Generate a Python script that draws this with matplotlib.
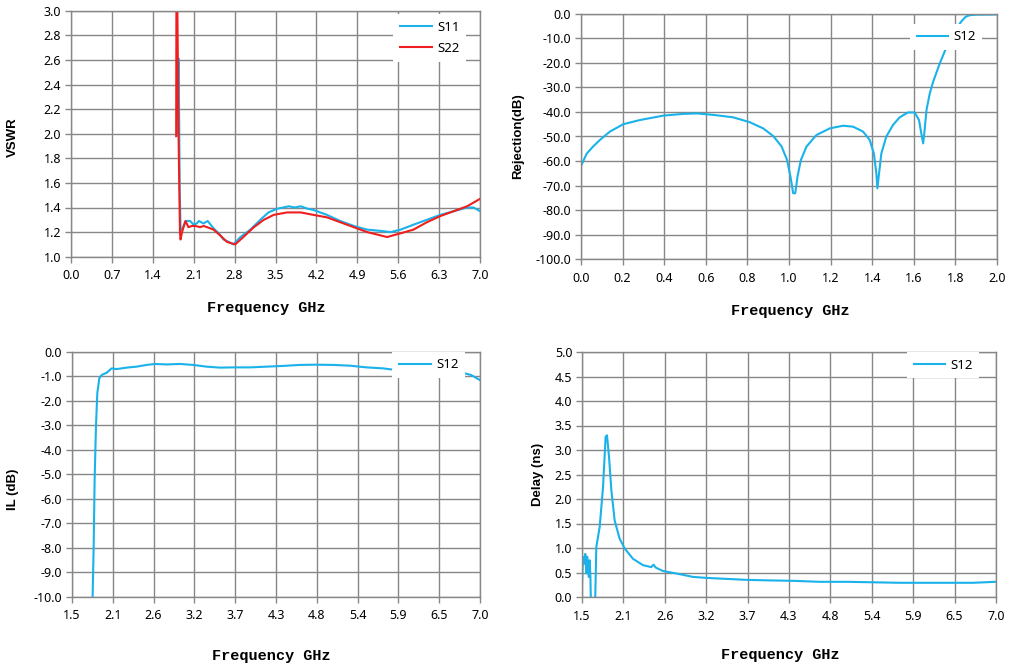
import matplotlib
matplotlib.use("Agg")
import matplotlib.pyplot as plt
from matplotlib.ticker import FormatStrFormatter

# VSWR data (GHz, ratio)
s11_vswr_f = [1.835, 1.843, 1.86, 1.875, 1.90, 1.96, 2.00, 2.04, 2.10, 2.15, 2.19, 2.23, 2.27, 2.30,
              2.34, 2.44, 2.53, 2.61, 2.70, 2.78, 2.90, 3.07, 3.24, 3.38, 3.53, 3.63, 3.73, 3.83,
              3.93, 4.05, 4.15, 4.38, 4.61, 4.84, 5.07, 5.30, 5.47, 5.64, 5.86, 6.09, 6.32,
              6.55, 6.78, 6.89, 7.00]
s11_vswr = [2.00, 2.61, 1.55, 1.22, 1.22, 1.29, 1.29, 1.29, 1.26, 1.27, 1.29, 1.28, 1.27, 1.28,
            1.29, 1.23, 1.19, 1.14, 1.12, 1.10, 1.16, 1.22, 1.30, 1.36, 1.39, 1.40, 1.41, 1.40,
            1.41, 1.39, 1.38, 1.34, 1.29, 1.25, 1.22, 1.21, 1.20, 1.22, 1.26, 1.30, 1.34,
            1.37, 1.40, 1.40, 1.37]

s22_vswr_f = [1.800, 1.805, 1.815, 1.840, 1.865, 1.875, 1.90, 1.96, 2.01, 2.07, 2.13, 2.21, 2.27,
              2.33, 2.44, 2.56, 2.67, 2.81, 2.95, 3.13, 3.30, 3.47, 3.70, 3.93, 4.15, 4.38,
              4.61, 4.84, 5.07, 5.24, 5.41, 5.64, 5.86, 6.09, 6.32, 6.55, 6.78, 7.00]
s22_vswr = [1.98, 3.30, 3.30, 2.00, 1.20, 1.14, 1.20, 1.29, 1.24, 1.25, 1.25, 1.24, 1.25,
            1.24, 1.22, 1.17, 1.12, 1.10, 1.16, 1.24, 1.30, 1.34, 1.36, 1.36, 1.34, 1.32,
            1.28, 1.24, 1.20, 1.18, 1.16, 1.19, 1.22, 1.28, 1.33, 1.37, 1.41, 1.47]

# Rejection data (GHz, dB)
rej_f = [0.000, 0.011, 0.027, 0.059, 0.091, 0.139, 0.203, 0.283, 0.396, 0.490, 0.556, 0.636,
         0.732, 0.812, 0.876, 0.924, 0.964, 0.991, 1.007, 1.020, 1.030, 1.041, 1.057, 1.084,
         1.132, 1.196, 1.260, 1.308, 1.356, 1.388, 1.408, 1.420, 1.425, 1.433, 1.444, 1.468,
         1.500, 1.532, 1.572, 1.604, 1.625, 1.636, 1.645, 1.652, 1.661, 1.677, 1.693, 1.725,
         1.765, 1.800, 1.830, 1.850, 1.870, 1.900, 2.000]
rej_db = [-62.0, -60.0, -57.0, -54.0, -51.4, -48.0, -45.0, -43.3, -41.5, -40.8, -40.6, -41.2,
          -42.2, -44.2, -46.7, -49.8, -54.0, -59.6, -66.3, -73.1, -73.1, -66.3, -59.6, -54.1,
          -49.4, -46.7, -45.6, -46.0, -48.0, -51.4, -56.9, -65.0, -71.1, -65.0, -56.9, -50.0,
          -45.3, -42.2, -40.2, -40.2, -43.3, -48.7, -52.8, -47.4, -39.2, -32.4, -27.7, -20.2,
          -12.0, -6.5, -3.0, -1.2, -0.6, -0.4, -0.3]

# Insertion loss data (GHz, dB)
il_f = [1.772, 1.778, 1.792, 1.805, 1.823, 1.841, 1.868, 1.900, 1.967, 2.034, 2.100, 2.236,
        2.370, 2.506, 2.618, 2.775, 2.955, 3.134, 3.314, 3.493, 3.673, 3.898, 4.122, 4.347,
        4.571, 4.796, 5.020, 5.245, 5.469, 5.694, 5.873, 6.200, 6.500, 6.790, 6.880, 7.000]
il_db = [-10.5, -10.0, -7.96, -5.24, -3.06, -1.70, -1.09, -0.95, -0.86, -0.68, -0.71, -0.65,
         -0.61, -0.54, -0.50, -0.52, -0.50, -0.54, -0.61, -0.65, -0.64, -0.64, -0.61, -0.58,
         -0.54, -0.53, -0.54, -0.57, -0.64, -0.68, -0.75, -0.80, -0.84, -0.88, -0.95, -1.16]

# Group delay data (GHz, ns)
dly_f = [1.500, 1.513, 1.531, 1.544, 1.558, 1.571, 1.589, 1.602, 1.612, 1.620, 1.672, 1.690,
         1.735, 1.779, 1.814, 1.832, 1.859, 1.890, 1.934, 2.000, 2.067, 2.177, 2.310, 2.420,
         2.450, 2.480, 2.576, 2.753, 2.974, 3.152, 3.417, 3.683, 3.949, 4.303, 4.657, 5.011,
         5.366, 5.720, 6.074, 6.428, 6.693, 7.000]
dly_ns = [0.27, 0.82, 0.68, 0.88, 0.48, 0.82, 0.41, 0.75, 0.40, -0.30, -0.30, 1.02,
          1.43, 2.24, 3.27, 3.30, 2.86, 2.18, 1.56, 1.19, 0.99, 0.78, 0.65, 0.61,
          0.66, 0.60, 0.53, 0.48, 0.41, 0.39, 0.37, 0.35, 0.34, 0.33, 0.31, 0.31,
          0.30, 0.29, 0.29, 0.29, 0.29, 0.31]

vswr_ticks = [1.0, 1.2, 1.4, 1.6, 1.8, 2.0, 2.2, 2.4, 2.6, 2.8, 3.0]
rej_ticks = [0.0, -10.0, -20.0, -30.0, -40.0, -50.0, -60.0, -70.0, -80.0, -90.0, -100.0]
il_ticks = [0.0, -1.0, -2.0, -3.0, -4.0, -5.0, -6.0, -7.0, -8.0, -9.0, -10.0]
dly_ticks = [0.0, 0.5, 1.0, 1.5, 2.0, 2.5, 3.0, 3.5, 4.0, 4.5, 5.0]
top_left_ticks = [0.0, 0.7, 1.4, 2.1, 2.8, 3.5, 4.2, 4.9, 5.6, 6.3, 7.0]
top_right_ticks = [0.0, 0.2, 0.4, 0.6, 0.8, 1.0, 1.2, 1.4, 1.6, 1.8, 2.0]
bottom_ticks = [1.5, 2.05, 2.6, 3.15, 3.7, 4.25, 4.8, 5.35, 5.9, 6.45, 7.0]
bottom_labels = ["1.5", "2.1", "2.6", "3.2", "3.7", "4.3", "4.8", "5.4", "5.9", "6.5", "7.0"]

CYAN = "#1AB2EA"
RED = "#F01E1E"
GRID = "#878787"
W, H = 1016, 671

fig = plt.figure(figsize=(W / 100, H / 100), dpi=100)


def make_axes(l, t, r, b):
    return fig.add_axes([l / W, 1 - b / H, (r - l) / W, (b - t) / H])


def style(ax, ylabel, xl_pos, yl_pos):
    ax.grid(True, color=GRID, linewidth=1.0)
    ax.set_axisbelow(True)
    for sp in ax.spines.values():
        sp.set_color(GRID)
        sp.set_linewidth(1.0)
    ax.tick_params(direction="out", length=4, width=1.0, color=GRID,
                   labelsize=9, labelcolor="black")
    ax.tick_params(axis="x", pad=5)
    ax.tick_params(axis="y", pad=3)
    for lab in ax.get_xticklabels() + ax.get_yticklabels():
        lab.set_family("Noto Sans")
    ax.set_xlabel("Frequency GHz", family="Liberation Mono", fontweight="bold", fontsize=11)
    ax.set_ylabel(ylabel, family="Liberation Sans", fontweight="bold", fontsize=9.5)
    ax.xaxis.set_label_coords(*xl_pos)
    ax.yaxis.set_label_coords(*yl_pos)
    ax.xaxis.label.set_va("center")
    ax.yaxis.label.set_va("center")


def legend(ax, anchor):
    leg = ax.legend(loc="upper right", bbox_to_anchor=anchor, frameon=True, fancybox=False,
                    edgecolor="none", facecolor="white", framealpha=1.0, borderaxespad=0,
                    borderpad=0.5, handlelength=2.4, handletextpad=0.4, labelspacing=0.6,
                    prop={"family": "Noto Sans", "size": 9.5})
    leg.set_zorder(5)


# VSWR
ax1 = make_axes(71, 10.7, 480, 256.7)
ax1.plot(s11_vswr_f, s11_vswr, color=CYAN, lw=1.5, label="S11")
ax1.plot(s22_vswr_f, s22_vswr, color=RED, lw=1.5, label="S22")
ax1.set_xlim(0, 7)
ax1.set_ylim(1.0, 3.0)
ax1.set_xticks(top_left_ticks)
ax1.set_xticklabels(["%.1f" % t for t in top_left_ticks])
ax1.set_yticks(vswr_ticks)
ax1.set_yticklabels(["%.1f" % t for t in vswr_ticks])
style(ax1, "VSWR", (0.478, -0.2085), (-0.142, 0.484))
legend(ax1, (0.966, 0.985))

# Rejection
ax2 = make_axes(581, 13.7, 997, 259.3)
ax2.plot(rej_f, rej_db, color=CYAN, lw=1.5, label="S12")
ax2.set_xlim(0, 2)
ax2.set_ylim(-100, 0)
ax2.set_xticks(top_right_ticks)
ax2.set_xticklabels(["%.1f" % t for t in top_right_ticks])
ax2.set_yticks(rej_ticks)
ax2.set_yticklabels(["%.1f" % t for t in rej_ticks])
style(ax2, "Rejection(dB)", (0.502, -0.209), (-0.151, 0.5))
legend(ax2, (0.965, 0.96))

# Insertion loss
ax3 = make_axes(72, 351.7, 480, 596.7)
ax3.plot(il_f, il_db, color=CYAN, lw=1.5, label="S12")
ax3.set_xlim(1.5, 7)
ax3.set_ylim(-10, 0)
ax3.set_xticks(bottom_ticks)
ax3.set_xticklabels(bottom_labels)
ax3.set_yticks(il_ticks)
ax3.set_yticklabels(["%.1f" % t for t in il_ticks])
style(ax3, "IL (dB)", (0.489, -0.242), (-0.145, 0.439))
legend(ax3, (0.963, 1.0))

# Delay
ax4 = make_axes(582, 352, 996, 597)
ax4.plot(dly_f, dly_ns, color=CYAN, lw=1.5, label="S12")
ax4.set_xlim(1.5, 7)
ax4.set_ylim(0, 5)
ax4.set_xticks(bottom_ticks)
ax4.set_xticklabels(bottom_labels)
ax4.set_yticks(dly_ticks)
ax4.set_yticklabels(["%.1f" % t for t in dly_ticks])
style(ax4, "Delay (ns)", (0.48, -0.237), (-0.106, 0.5))
legend(ax4, (0.96, 1.0))

fig.savefig("out.png", dpi=100)
